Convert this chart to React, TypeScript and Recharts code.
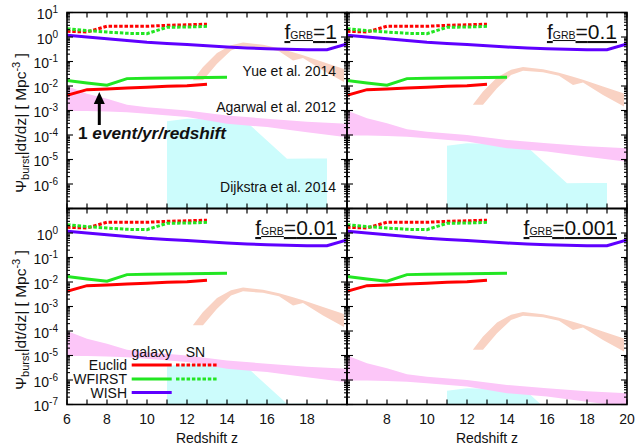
import { ComposedChart, Line, Area, XAxis, YAxis } from 'recharts';

const W = 636;
const H = 446;
const PW = 280;
const PH = 196;
const FONT = '"Liberation Sans", Arial, Helvetica, sans-serif';

const zEuclidGal = [6, 7, 8, 9, 10, 11, 12, 13];
const euclidGalaxy = [0.0042, 0.0071, 0.0076, 0.0083, 0.0089, 0.0097, 0.0102, 0.0117];
const zWfirstGal = [6, 7, 8, 9, 10, 11, 12, 13, 14];
const wfirstGalaxy = [0.0166, 0.0133, 0.0107, 0.02, 0.0205, 0.021, 0.0215, 0.022, 0.0227];
const zSN = [6, 7, 8, 9, 10, 11, 12, 13];
const euclidSN = [1.71, 1.6, 2.75, 2.75, 2.75, 3.0, 3.15, 3.35];
const wfirstSN = [2.19, 1.81, 1.6, 1.41, 1.37, 2.49, 2.55, 2.73];
const zWish = [6, 7, 8, 9, 10, 11, 12, 13, 14, 15, 16, 17, 18, 19, 20];
const wish = [1.17, 1.0, 0.85, 0.72, 0.61, 0.54, 0.49, 0.44, 0.39, 0.355, 0.33, 0.315, 0.305, 0.3, 0.52];

// model bands for f_GRB = 1 (scaled by f_GRB in the other panels)
const zYue = [12.3, 12.8, 13.5, 14.2, 14.8, 15.8, 16.6, 17.3, 17.8, 18.8, 19.85];
const yueLow = [0.017, 0.017, 0.08, 0.28, 0.42, 0.36, 0.26, 0.11, 0.14, 0.043, 0.0145];
const yueHigh = [0.0175, 0.06, 0.22, 0.46, 0.6, 0.48, 0.35, 0.24, 0.18, 0.095, 0.05];
const zAgarwal = [6, 7, 8, 9, 10, 12, 14, 16, 18, 20];
const agarwalLow = [0.00095, 0.00095, 0.00091, 0.00085, 0.00074, 0.00054, 0.00029, 0.00021, 0.00013, 0.000081];
const agarwalHigh = [0.01, 0.0048, 0.003, 0.0017, 0.00135, 0.001, 0.00063, 0.00046, 0.00035, 0.00029];
const zDijkstra = [11, 12, 13, 14, 15, 17, 18, 19];
const dijkstraTop = [0.00036, 0.00046, 0.00044, 0.00039, 0.00033, 0.0000107, 0.000011, 0.000011];
const dijkstraFloor = 1e-9;

// axes
const xTicks = [6, 7, 8, 9, 10, 11, 12, 13, 14, 15, 16, 17, 18, 19, 20];
const xLabelsLeft = [6, 8, 10, 12, 14, 16, 18];
const xLabelsRight = [8, 10, 12, 14, 16, 18, 20];
const decadeExps = [-7, -6, -5, -4, -3, -2, -1, 0, 1];
const yLabelsTop = [1, 0, -1, -2, -3, -4, -5, -6];
const yLabelsBottom = [0, -1, -2, -3, -4, -5, -6, -7];

const yTicks: number[] = [];
decadeExps.forEach((e) => {
  yTicks.push(Math.pow(10, e));
  if (e < 1) for (let m = 2; m <= 9; m++) yTicks.push(m * Math.pow(10, e));
});

const panels = [
  { f: 1, fLabel: '1', left: 67, top: 12.5, yLabels: yLabelsTop, xLabels: [] as number[] },
  { f: 0.1, fLabel: '0.1', left: 347, top: 12.5, yLabels: [] as number[], xLabels: [] as number[] },
  { f: 0.01, fLabel: '0.01', left: 67, top: 208.5, yLabels: yLabelsBottom, xLabels: xLabelsLeft },
  { f: 0.001, fLabel: '0.001', left: 347, top: 208.5, yLabels: [] as number[], xLabels: xLabelsRight },
];

const RED = '#ff0000';
const GREEN = '#22e622';
const PURPLE = '#5f00ff';
const DASH = '3.5 1.8';

function buildTable(f: number) {
  const zs = Array.from(new Set([...zWish, ...zYue, ...zAgarwal, ...zDijkstra])).sort((a, b) => a - b);
  return zs.map((z) => {
    const row: any = { z };
    const put = (key: string, zArr: number[], vals: number[]) => {
      const i = zArr.indexOf(z);
      if (i >= 0) row[key] = vals[i];
    };
    put('euclidGal', zEuclidGal, euclidGalaxy);
    put('wfirstGal', zWfirstGal, wfirstGalaxy);
    put('euclidSN', zSN, euclidSN);
    put('wfirstSN', zSN, wfirstSN);
    put('wish', zWish, wish);
    const iy = zYue.indexOf(z);
    if (iy >= 0) row.yue = [yueLow[iy] * f, yueHigh[iy] * f];
    const ia = zAgarwal.indexOf(z);
    if (ia >= 0) row.agarwal = [agarwalLow[ia] * f, agarwalHigh[ia] * f];
    const id = zDijkstra.indexOf(z);
    if (id >= 0) row.dijkstra = [dijkstraFloor, dijkstraTop[id] * f];
    return row;
  });
}

function makeXTick(labels: number[]) {
  return (props: any) => {
    const { x, y, payload } = props;
    const v = payload.value;
    return (
      <g>
        <line x1={x} y1={y} x2={x} y2={y - 5} stroke="#000" strokeWidth={1.2} />
        <line x1={x} y1={y - PH} x2={x} y2={y - PH + 5} stroke="#000" strokeWidth={1.2} />
        {labels.includes(v) && (
          <text x={x} y={y + 19} textAnchor="middle" fontSize={14} fontFamily={FONT} fill="#111">
            {v}
          </text>
        )}
      </g>
    );
  };
}

function makeYTick(labels: number[]) {
  return (props: any) => {
    const { x, y, payload } = props;
    const e = Math.log10(payload.value);
    const exp = Math.round(e);
    const major = Math.abs(e - exp) < 1e-6;
    const len = major ? 6 : 3;
    return (
      <g>
        <line x1={x} y1={y} x2={x + len} y2={y} stroke="#000" strokeWidth={1.1} />
        <line x1={x + PW} y1={y} x2={x + PW - len} y2={y} stroke="#000" strokeWidth={1.1} />
        {major && labels.includes(exp) && (
          <text x={x - 9} y={y + 6.5} textAnchor="end" fontSize={14} fontFamily={FONT} fill="#111">
            10
            <tspan dy={-6} fontSize={10}>
              {exp}
            </tspan>
          </text>
        )}
      </g>
    );
  };
}

function Panel({ p }: { p: (typeof panels)[number] }) {
  const data = buildTable(p.f);
  return (
    <div style={{ position: 'absolute', left: 0, top: 0 }}>
      <ComposedChart
        width={W}
        height={H}
        data={data}
        margin={{ top: p.top, left: p.left - 1, right: W - p.left - PW, bottom: H - p.top - PH - 1 }}
      >
        <XAxis
          dataKey="z"
          type="number"
          domain={[6, 20]}
          ticks={xTicks}
          interval={0}
          allowDataOverflow
          height={1}
          tickSize={0}
          tickMargin={0}
          axisLine={false}
          tickLine={false}
          tick={makeXTick(p.xLabels)}
        />
        <YAxis
          type="number"
          scale="log"
          domain={[1e-7, 10]}
          ticks={yTicks}
          interval={0}
          allowDataOverflow
          width={1}
          tickSize={0}
          tickMargin={0}
          axisLine={false}
          tickLine={false}
          tick={makeYTick(p.yLabels)}
        />
        <Area dataKey="dijkstra" type="linear" stroke="none" fill="#ccfcfc" fillOpacity={1} connectNulls isAnimationActive={false} />
        <Area dataKey="agarwal" type="linear" stroke="none" fill="#fcc6f8" fillOpacity={1} connectNulls isAnimationActive={false} />
        <Area dataKey="yue" type="linear" stroke="none" fill="#f9d2c3" fillOpacity={1} connectNulls isAnimationActive={false} />
        <Line dataKey="wish" type="linear" stroke={PURPLE} strokeWidth={3} dot={false} connectNulls isAnimationActive={false} />
        <Line dataKey="euclidGal" type="linear" stroke={RED} strokeWidth={3} dot={false} connectNulls isAnimationActive={false} />
        <Line dataKey="wfirstGal" type="linear" stroke={GREEN} strokeWidth={3} dot={false} connectNulls isAnimationActive={false} />
        <Line dataKey="euclidSN" type="linear" stroke={RED} strokeWidth={3} strokeDasharray={DASH} dot={false} connectNulls isAnimationActive={false} />
        <Line dataKey="wfirstSN" type="linear" stroke={GREEN} strokeWidth={3} strokeDasharray={DASH} dot={false} connectNulls isAnimationActive={false} />
      </ComposedChart>
    </div>
  );
}

function YTitle({ cy }: { cy: number }) {
  return (
    <text transform={`translate(26, ${cy}) rotate(-90)`} textAnchor="middle" fontSize={15.5} fontFamily={FONT} fill="#111">
      Ψ
      <tspan fontSize={11} dy={3}>
        burst
      </tspan>
      <tspan dy={-3}>{'|dt/dz| [ Mpc'}</tspan>
      <tspan fontSize={11} dy={-6}>
        -3
      </tspan>
      <tspan dy={6}>{' ]'}</tspan>
    </text>
  );
}

export default function App() {
  const txt = { fontFamily: FONT, fill: '#111' };
  return (
    <div style={{ position: 'absolute', left: 0, top: 0, width: W, height: H, background: '#fff', overflow: 'hidden' }}>
      {panels.map((p) => (
        <Panel key={p.fLabel} p={p} />
      ))}
      <svg width={W} height={H} style={{ position: 'absolute', left: 0, top: 0, pointerEvents: 'none' }}>
        {panels.map((p) => (
          <g key={p.fLabel}>
            <rect x={p.left} y={p.top} width={PW} height={PH} fill="none" stroke="#000" strokeWidth={1.6} />
            <text
              x={p.left + PW - 10}
              y={p.top + 26.5}
              textAnchor="end"
              fontSize={21}
              style={{ textDecoration: 'underline' }}
              {...txt}
            >
              f<tspan fontSize={10.5}>GRB</tspan>={p.fLabel}
            </text>
          </g>
        ))}

        <text x={336} y={76} textAnchor="end" fontSize={14} {...txt}>Yue et al. 2014</text>
        <text x={336} y={111.5} textAnchor="end" fontSize={14} {...txt}>Agarwal et al. 2012</text>
        <text x={336} y={191.5} textAnchor="end" fontSize={14} {...txt}>Dijkstra et al. 2014</text>

        <line x1={99.3} y1={125} x2={99.3} y2={102} stroke="#000" strokeWidth={3} />
        <polygon points="99.3,92 93.8,104 104.8,104" fill="#000" />
        <text x={78} y={139} fontSize={17.2} fontWeight="bold" {...txt}>
          1 <tspan fontStyle="italic">event/yr/redshift</tspan>
        </text>

        {/* legend */}
        <text x={151.7} y={357} textAnchor="middle" fontSize={14} {...txt}>galaxy</text>
        <text x={195.5} y={357} textAnchor="middle" fontSize={14} {...txt}>SN</text>
        <text x={127} y={370} textAnchor="end" fontSize={14} {...txt}>Euclid</text>
        <text x={127} y={384} textAnchor="end" fontSize={14} {...txt}>WFIRST</text>
        <text x={127} y={398} textAnchor="end" fontSize={14} {...txt}>WISH</text>
        <line x1={131.7} y1={365} x2={171.7} y2={365} stroke={RED} strokeWidth={3} />
        <line x1={176} y1={365} x2={216.7} y2={365} stroke={RED} strokeWidth={3} strokeDasharray={DASH} />
        <line x1={131.7} y1={379} x2={171.7} y2={379} stroke={GREEN} strokeWidth={3} />
        <line x1={176} y1={379} x2={216.7} y2={379} stroke={GREEN} strokeWidth={3} strokeDasharray={DASH} />
        <line x1={131.7} y1={392.5} x2={171.7} y2={392.5} stroke={PURPLE} strokeWidth={3} />

        <YTitle cy={123} />
        <YTitle cy={320} />
        <text x={207} y={443} textAnchor="middle" fontSize={14} {...txt}>Redshift z</text>
        <text x={487} y={443} textAnchor="middle" fontSize={14} {...txt}>Redshift z</text>
      </svg>
    </div>
  );
}
